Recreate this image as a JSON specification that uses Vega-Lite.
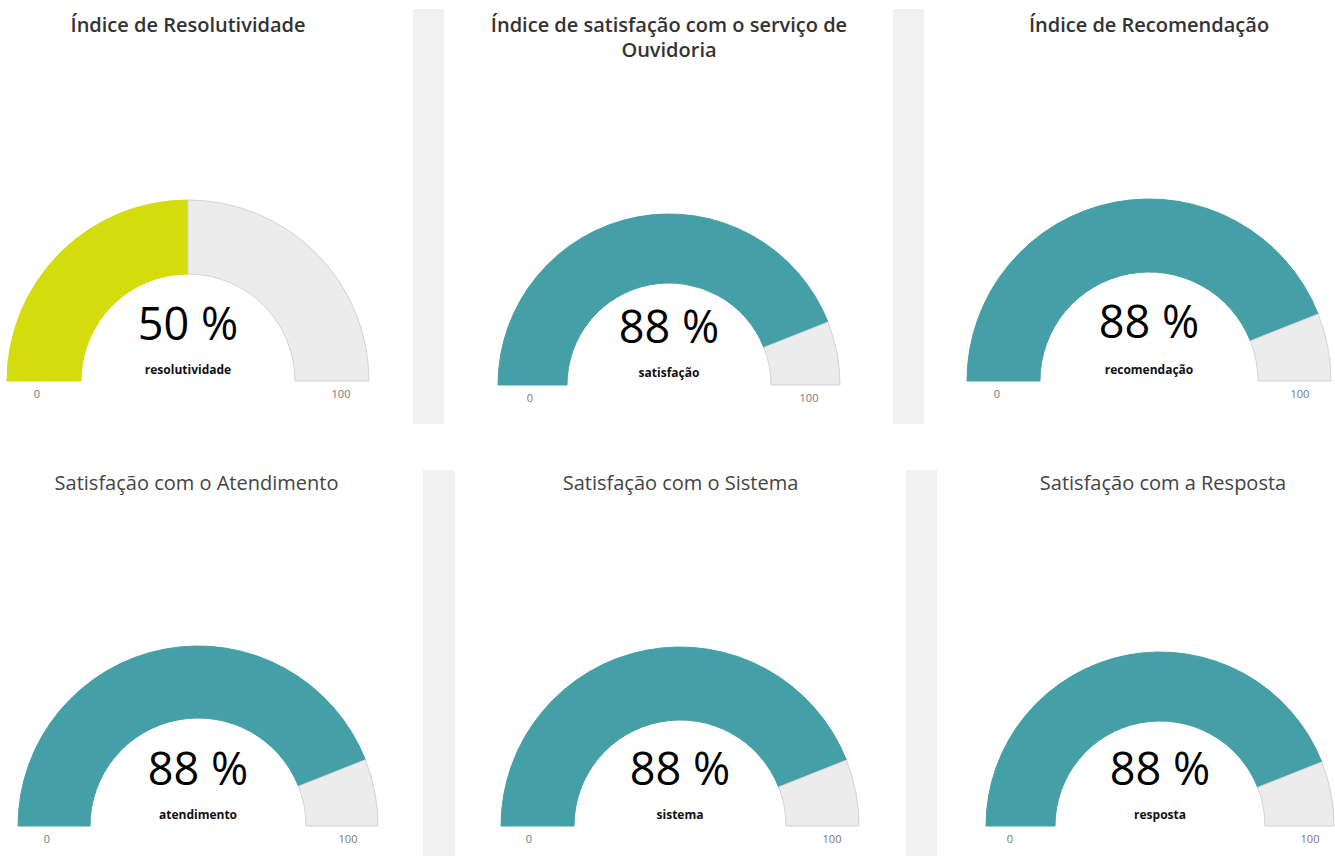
{
  "$schema": "https://vega.github.io/schema/vega-lite/v6.json",
  "padding": {"left": 0, "top": 9, "right": 0, "bottom": 0},
  "background": "white",
  "config": {"view": {"stroke": null}, "font": "Open Sans"},
  "datasets": {
    "gauges": [
      {"painel": "resolutividade", "parte": "valor", "ord": 1, "v": 50},
      {"painel": "resolutividade", "parte": "resto", "ord": 2, "v": 50},
      {"painel": "satisfacao", "parte": "valor", "ord": 1, "v": 88},
      {"painel": "satisfacao", "parte": "resto", "ord": 2, "v": 12},
      {"painel": "recomendacao", "parte": "valor", "ord": 1, "v": 88},
      {"painel": "recomendacao", "parte": "resto", "ord": 2, "v": 12},
      {"painel": "atendimento", "parte": "valor", "ord": 1, "v": 88},
      {"painel": "atendimento", "parte": "resto", "ord": 2, "v": 12},
      {"painel": "sistema", "parte": "valor", "ord": 1, "v": 88},
      {"painel": "sistema", "parte": "resto", "ord": 2, "v": 12},
      {"painel": "resposta", "parte": "valor", "ord": 1, "v": 88},
      {"painel": "resposta", "parte": "resto", "ord": 2, "v": 12}
    ],
    "textos": [
      {"painel": "resolutividade", "rotulo": "50 %", "nome": "resolutividade", "min": 0, "max": 100},
      {"painel": "satisfacao", "rotulo": "88 %", "nome": "satisfação", "min": 0, "max": 100},
      {"painel": "recomendacao", "rotulo": "88 %", "nome": "recomendação", "min": 0, "max": 100},
      {"painel": "atendimento", "rotulo": "88 %", "nome": "atendimento", "min": 0, "max": 100},
      {"painel": "sistema", "rotulo": "88 %", "nome": "sistema", "min": 0, "max": 100},
      {"painel": "resposta", "rotulo": "88 %", "nome": "resposta", "min": 0, "max": 100}
    ],
    "faixa": [{"faixa": "separador"}]
  },
  "spacing": 46,
  "vconcat": [
    {
      "spacing": 0,
      "hconcat": [
        {
          "width": 413, "height": 372,
          "title": {"text": "Índice de Resolutividade", "anchor": "middle", "dx": -18.5, "offset": -43, "baseline": "alphabetic", "fontSize": 20, "fontWeight": 600, "font": "Open Sans", "color": "#333333"},
          "layer": [
            {
              "data": {"name": "gauges"},
              "transform": [{"filter": "datum.painel == 'resolutividade'"}],
              "mark": {"type": "arc", "radius": 181, "radius2": 107, "strokeWidth": 1},
              "encoding": {
                "x": {"datum": 0.4552, "type": "quantitative", "scale": {"domain": [0, 1]}, "axis": null},
                "y": {"datum": 0, "type": "quantitative", "scale": {"domain": [0, 1]}, "axis": null},
                "theta": {"field": "v", "type": "quantitative", "stack": true, "scale": {"domain": [0, 100], "range": [-1.5708, 1.5708]}},
                "order": {"field": "ord", "type": "quantitative"},
                "color": {"condition": {"test": "datum.parte == 'valor'", "value": "#d5dc0e"}, "value": "#ececec"},
                "stroke": {"condition": {"test": "datum.parte == 'valor'", "value": "#d5dc0e"}, "value": "#d3d3d3"}
              }
            },
            {
              "data": {"name": "textos"},
              "transform": [{"filter": "datum.painel == 'resolutividade'"}],
              "mark": {"type": "text", "fontSize": 45, "dy": -41, "baseline": "alphabetic", "align": "center", "color": "#000000"},
              "encoding": {"x": {"datum": 0.4552, "type": "quantitative"}, "y": {"datum": 0, "type": "quantitative"}, "text": {"field": "rotulo"}}
            },
            {
              "data": {"name": "textos"},
              "transform": [{"filter": "datum.painel == 'resolutividade'"}],
              "mark": {"type": "text", "fontSize": 12, "fontWeight": "bold", "dy": -7, "baseline": "alphabetic", "align": "center", "color": "#111111"},
              "encoding": {"x": {"datum": 0.4552, "type": "quantitative"}, "y": {"datum": 0, "type": "quantitative"}, "text": {"field": "nome"}}
            },
            {
              "data": {"name": "textos"},
              "transform": [{"filter": "datum.painel == 'resolutividade'"}],
              "mark": {"type": "text", "fontSize": 11, "dy": 17, "dx": -151, "baseline": "alphabetic", "align": "center", "color": "#777777"},
              "encoding": {"x": {"datum": 0.4552, "type": "quantitative"}, "y": {"datum": 0, "type": "quantitative"}, "text": {"field": "min", "type": "quantitative"}}
            },
            {
              "data": {"name": "textos"},
              "transform": [{"filter": "datum.painel == 'resolutividade'"}],
              "mark": {"type": "text", "fontSize": 11, "dy": 17, "dx": 153, "baseline": "alphabetic", "align": "center", "color": "#777777"},
              "encoding": {"x": {"datum": 0.4552, "type": "quantitative"}, "y": {"datum": 0, "type": "quantitative"}, "text": {"field": "max", "type": "quantitative"}}
            }
          ]
        },
        {
          "width": 31, "height": 415,
          "data": {"name": "faixa"},
          "mark": {"type": "rect", "color": "#f1f1f1"},
          "encoding": {
            "x": {"datum": 0, "type": "quantitative", "scale": {"domain": [0, 1]}, "axis": null},
            "x2": {"datum": 1},
            "y": {"datum": 0, "type": "quantitative", "scale": {"domain": [0, 1]}, "axis": null},
            "y2": {"datum": 1}
          }
        },
        {
          "width": 449, "height": 376,
          "title": {"text": ["Índice de satisfação com o serviço de", "Ouvidoria"], "anchor": "middle", "dx": 0.5, "offset": -68, "baseline": "alphabetic", "lineHeight": 25, "fontSize": 20, "fontWeight": 600, "font": "Open Sans", "color": "#333333"},
          "layer": [
            {
              "data": {"name": "gauges"},
              "transform": [{"filter": "datum.painel == 'satisfacao'"}],
              "mark": {"type": "arc", "radius": 171, "radius2": 102, "strokeWidth": 1},
              "encoding": {
                "x": {"datum": 0.5011, "type": "quantitative", "scale": {"domain": [0, 1]}, "axis": null},
                "y": {"datum": 0, "type": "quantitative", "scale": {"domain": [0, 1]}, "axis": null},
                "theta": {"field": "v", "type": "quantitative", "stack": true, "scale": {"domain": [0, 100], "range": [-1.5708, 1.5708]}},
                "order": {"field": "ord", "type": "quantitative"},
                "color": {"condition": {"test": "datum.parte == 'valor'", "value": "#459fa6"}, "value": "#ececec"},
                "stroke": {"condition": {"test": "datum.parte == 'valor'", "value": "#459fa6"}, "value": "#d3d3d3"}
              }
            },
            {
              "data": {"name": "textos"},
              "transform": [{"filter": "datum.painel == 'satisfacao'"}],
              "mark": {"type": "text", "fontSize": 45, "dy": -42, "baseline": "alphabetic", "align": "center", "color": "#000000"},
              "encoding": {"x": {"datum": 0.5011, "type": "quantitative"}, "y": {"datum": 0, "type": "quantitative"}, "text": {"field": "rotulo"}}
            },
            {
              "data": {"name": "textos"},
              "transform": [{"filter": "datum.painel == 'satisfacao'"}],
              "mark": {"type": "text", "fontSize": 12, "fontWeight": "bold", "dy": -8, "baseline": "alphabetic", "align": "center", "color": "#111111"},
              "encoding": {"x": {"datum": 0.5011, "type": "quantitative"}, "y": {"datum": 0, "type": "quantitative"}, "text": {"field": "nome"}}
            },
            {
              "data": {"name": "textos"},
              "transform": [{"filter": "datum.painel == 'satisfacao'"}],
              "mark": {"type": "text", "fontSize": 11, "dy": 17, "dx": -139, "baseline": "alphabetic", "align": "center", "color": "#777777"},
              "encoding": {"x": {"datum": 0.5011, "type": "quantitative"}, "y": {"datum": 0, "type": "quantitative"}, "text": {"field": "min", "type": "quantitative"}}
            },
            {
              "data": {"name": "textos"},
              "transform": [{"filter": "datum.painel == 'satisfacao'"}],
              "mark": {"type": "text", "fontSize": 11, "dy": 17, "dx": 140, "baseline": "alphabetic", "align": "center", "color": "#777777"},
              "encoding": {"x": {"datum": 0.5011, "type": "quantitative"}, "y": {"datum": 0, "type": "quantitative"}, "text": {"field": "max", "type": "quantitative"}}
            }
          ]
        },
        {
          "width": 31, "height": 415,
          "data": {"name": "faixa"},
          "mark": {"type": "rect", "color": "#f1f1f1"},
          "encoding": {
            "x": {"datum": 0, "type": "quantitative", "scale": {"domain": [0, 1]}, "axis": null},
            "x2": {"datum": 1},
            "y": {"datum": 0, "type": "quantitative", "scale": {"domain": [0, 1]}, "axis": null},
            "y2": {"datum": 1}
          }
        },
        {
          "width": 411, "height": 372,
          "title": {"text": "Índice de Recomendação", "anchor": "middle", "dx": 19.5, "offset": -43, "baseline": "alphabetic", "fontSize": 20, "fontWeight": 600, "font": "Open Sans", "color": "#333333"},
          "layer": [
            {
              "data": {"name": "gauges"},
              "transform": [{"filter": "datum.painel == 'recomendacao'"}],
              "mark": {"type": "arc", "radius": 182, "radius2": 109, "strokeWidth": 1},
              "encoding": {
                "x": {"datum": 0.5474, "type": "quantitative", "scale": {"domain": [0, 1]}, "axis": null},
                "y": {"datum": 0, "type": "quantitative", "scale": {"domain": [0, 1]}, "axis": null},
                "theta": {"field": "v", "type": "quantitative", "stack": true, "scale": {"domain": [0, 100], "range": [-1.5708, 1.5708]}},
                "order": {"field": "ord", "type": "quantitative"},
                "color": {"condition": {"test": "datum.parte == 'valor'", "value": "#459fa6"}, "value": "#ececec"},
                "stroke": {"condition": {"test": "datum.parte == 'valor'", "value": "#459fa6"}, "value": "#d3d3d3"}
              }
            },
            {
              "data": {"name": "textos"},
              "transform": [{"filter": "datum.painel == 'recomendacao'"}],
              "mark": {"type": "text", "fontSize": 45, "dy": -43, "baseline": "alphabetic", "align": "center", "color": "#000000"},
              "encoding": {"x": {"datum": 0.5474, "type": "quantitative"}, "y": {"datum": 0, "type": "quantitative"}, "text": {"field": "rotulo"}}
            },
            {
              "data": {"name": "textos"},
              "transform": [{"filter": "datum.painel == 'recomendacao'"}],
              "mark": {"type": "text", "fontSize": 12, "fontWeight": "bold", "dy": -7, "baseline": "alphabetic", "align": "center", "color": "#111111"},
              "encoding": {"x": {"datum": 0.5474, "type": "quantitative"}, "y": {"datum": 0, "type": "quantitative"}, "text": {"field": "nome"}}
            },
            {
              "data": {"name": "textos"},
              "transform": [{"filter": "datum.painel == 'recomendacao'"}],
              "mark": {"type": "text", "fontSize": 11, "dy": 17, "dx": -152, "baseline": "alphabetic", "align": "center", "color": "#777777"},
              "encoding": {"x": {"datum": 0.5474, "type": "quantitative"}, "y": {"datum": 0, "type": "quantitative"}, "text": {"field": "min", "type": "quantitative"}}
            },
            {
              "data": {"name": "textos"},
              "transform": [{"filter": "datum.painel == 'recomendacao'"}],
              "mark": {"type": "text", "fontSize": 11, "dy": 17, "dx": 151, "baseline": "alphabetic", "align": "center", "color": "#777777"},
              "encoding": {"x": {"datum": 0.5474, "type": "quantitative"}, "y": {"datum": 0, "type": "quantitative"}, "text": {"field": "max", "type": "quantitative"}}
            }
          ]
        }
      ]
    },
    {
      "spacing": 0,
      "hconcat": [
        {
          "width": 423, "height": 356,
          "title": {"text": "Satisfação com o Atendimento", "anchor": "middle", "dx": -15, "offset": -40, "baseline": "alphabetic", "fontSize": 20, "fontWeight": "normal", "font": "Open Sans", "color": "#444444"},
          "layer": [
            {
              "data": {"name": "gauges"},
              "transform": [{"filter": "datum.painel == 'atendimento'"}],
              "mark": {"type": "arc", "radius": 180, "radius2": 108, "strokeWidth": 1},
              "encoding": {
                "x": {"datum": 0.4681, "type": "quantitative", "scale": {"domain": [0, 1]}, "axis": null},
                "y": {"datum": 0, "type": "quantitative", "scale": {"domain": [0, 1]}, "axis": null},
                "theta": {"field": "v", "type": "quantitative", "stack": true, "scale": {"domain": [0, 100], "range": [-1.5708, 1.5708]}},
                "order": {"field": "ord", "type": "quantitative"},
                "color": {"condition": {"test": "datum.parte == 'valor'", "value": "#459fa6"}, "value": "#ececec"},
                "stroke": {"condition": {"test": "datum.parte == 'valor'", "value": "#459fa6"}, "value": "#d3d3d3"}
              }
            },
            {
              "data": {"name": "textos"},
              "transform": [{"filter": "datum.painel == 'atendimento'"}],
              "mark": {"type": "text", "fontSize": 45, "dy": -41, "baseline": "alphabetic", "align": "center", "color": "#000000"},
              "encoding": {"x": {"datum": 0.4681, "type": "quantitative"}, "y": {"datum": 0, "type": "quantitative"}, "text": {"field": "rotulo"}}
            },
            {
              "data": {"name": "textos"},
              "transform": [{"filter": "datum.painel == 'atendimento'"}],
              "mark": {"type": "text", "fontSize": 12, "fontWeight": "bold", "dy": -7, "baseline": "alphabetic", "align": "center", "color": "#111111"},
              "encoding": {"x": {"datum": 0.4681, "type": "quantitative"}, "y": {"datum": 0, "type": "quantitative"}, "text": {"field": "nome"}}
            },
            {
              "data": {"name": "textos"},
              "transform": [{"filter": "datum.painel == 'atendimento'"}],
              "mark": {"type": "text", "fontSize": 11, "dy": 17, "dx": -151, "baseline": "alphabetic", "align": "center", "color": "#777777"},
              "encoding": {"x": {"datum": 0.4681, "type": "quantitative"}, "y": {"datum": 0, "type": "quantitative"}, "text": {"field": "min", "type": "quantitative"}}
            },
            {
              "data": {"name": "textos"},
              "transform": [{"filter": "datum.painel == 'atendimento'"}],
              "mark": {"type": "text", "fontSize": 11, "dy": 17, "dx": 150, "baseline": "alphabetic", "align": "center", "color": "#777777"},
              "encoding": {"x": {"datum": 0.4681, "type": "quantitative"}, "y": {"datum": 0, "type": "quantitative"}, "text": {"field": "max", "type": "quantitative"}}
            }
          ]
        },
        {
          "width": 32, "height": 386,
          "data": {"name": "faixa"},
          "mark": {"type": "rect", "color": "#f1f1f1"},
          "encoding": {
            "x": {"datum": 0, "type": "quantitative", "scale": {"domain": [0, 1]}, "axis": null},
            "x2": {"datum": 1},
            "y": {"datum": 0, "type": "quantitative", "scale": {"domain": [0, 1]}, "axis": null},
            "y2": {"datum": 1}
          }
        },
        {
          "width": 451, "height": 356,
          "title": {"text": "Satisfação com o Sistema", "anchor": "middle", "dx": 0, "offset": -40, "baseline": "alphabetic", "fontSize": 20, "fontWeight": "normal", "font": "Open Sans", "color": "#444444"},
          "layer": [
            {
              "data": {"name": "gauges"},
              "transform": [{"filter": "datum.painel == 'sistema'"}],
              "mark": {"type": "arc", "radius": 179, "radius2": 106, "strokeWidth": 1},
              "encoding": {
                "x": {"datum": 0.4989, "type": "quantitative", "scale": {"domain": [0, 1]}, "axis": null},
                "y": {"datum": 0, "type": "quantitative", "scale": {"domain": [0, 1]}, "axis": null},
                "theta": {"field": "v", "type": "quantitative", "stack": true, "scale": {"domain": [0, 100], "range": [-1.5708, 1.5708]}},
                "order": {"field": "ord", "type": "quantitative"},
                "color": {"condition": {"test": "datum.parte == 'valor'", "value": "#459fa6"}, "value": "#ececec"},
                "stroke": {"condition": {"test": "datum.parte == 'valor'", "value": "#459fa6"}, "value": "#d3d3d3"}
              }
            },
            {
              "data": {"name": "textos"},
              "transform": [{"filter": "datum.painel == 'sistema'"}],
              "mark": {"type": "text", "fontSize": 45, "dy": -41, "baseline": "alphabetic", "align": "center", "color": "#000000"},
              "encoding": {"x": {"datum": 0.4989, "type": "quantitative"}, "y": {"datum": 0, "type": "quantitative"}, "text": {"field": "rotulo"}}
            },
            {
              "data": {"name": "textos"},
              "transform": [{"filter": "datum.painel == 'sistema'"}],
              "mark": {"type": "text", "fontSize": 12, "fontWeight": "bold", "dy": -7, "baseline": "alphabetic", "align": "center", "color": "#111111"},
              "encoding": {"x": {"datum": 0.4989, "type": "quantitative"}, "y": {"datum": 0, "type": "quantitative"}, "text": {"field": "nome"}}
            },
            {
              "data": {"name": "textos"},
              "transform": [{"filter": "datum.painel == 'sistema'"}],
              "mark": {"type": "text", "fontSize": 11, "dy": 17, "dx": -151, "baseline": "alphabetic", "align": "center", "color": "#777777"},
              "encoding": {"x": {"datum": 0.4989, "type": "quantitative"}, "y": {"datum": 0, "type": "quantitative"}, "text": {"field": "min", "type": "quantitative"}}
            },
            {
              "data": {"name": "textos"},
              "transform": [{"filter": "datum.painel == 'sistema'"}],
              "mark": {"type": "text", "fontSize": 11, "dy": 17, "dx": 152, "baseline": "alphabetic", "align": "center", "color": "#777777"},
              "encoding": {"x": {"datum": 0.4989, "type": "quantitative"}, "y": {"datum": 0, "type": "quantitative"}, "text": {"field": "max", "type": "quantitative"}}
            }
          ]
        },
        {
          "width": 31, "height": 386,
          "data": {"name": "faixa"},
          "mark": {"type": "rect", "color": "#f1f1f1"},
          "encoding": {
            "x": {"datum": 0, "type": "quantitative", "scale": {"domain": [0, 1]}, "axis": null},
            "x2": {"datum": 1},
            "y": {"datum": 0, "type": "quantitative", "scale": {"domain": [0, 1]}, "axis": null},
            "y2": {"datum": 1}
          }
        },
        {
          "width": 398, "height": 356,
          "title": {"text": "Satisfação com a Resposta", "anchor": "middle", "dx": 27, "offset": -40, "baseline": "alphabetic", "fontSize": 20, "fontWeight": "normal", "font": "Open Sans", "color": "#444444"},
          "layer": [
            {
              "data": {"name": "gauges"},
              "transform": [{"filter": "datum.painel == 'resposta'"}],
              "mark": {"type": "arc", "radius": 174, "radius2": 105, "strokeWidth": 1},
              "encoding": {
                "x": {"datum": 0.5603, "type": "quantitative", "scale": {"domain": [0, 1]}, "axis": null},
                "y": {"datum": 0, "type": "quantitative", "scale": {"domain": [0, 1]}, "axis": null},
                "theta": {"field": "v", "type": "quantitative", "stack": true, "scale": {"domain": [0, 100], "range": [-1.5708, 1.5708]}},
                "order": {"field": "ord", "type": "quantitative"},
                "color": {"condition": {"test": "datum.parte == 'valor'", "value": "#459fa6"}, "value": "#ececec"},
                "stroke": {"condition": {"test": "datum.parte == 'valor'", "value": "#459fa6"}, "value": "#d3d3d3"}
              }
            },
            {
              "data": {"name": "textos"},
              "transform": [{"filter": "datum.painel == 'resposta'"}],
              "mark": {"type": "text", "fontSize": 45, "dy": -41, "baseline": "alphabetic", "align": "center", "color": "#000000"},
              "encoding": {"x": {"datum": 0.5603, "type": "quantitative"}, "y": {"datum": 0, "type": "quantitative"}, "text": {"field": "rotulo"}}
            },
            {
              "data": {"name": "textos"},
              "transform": [{"filter": "datum.painel == 'resposta'"}],
              "mark": {"type": "text", "fontSize": 12, "fontWeight": "bold", "dy": -7, "baseline": "alphabetic", "align": "center", "color": "#111111"},
              "encoding": {"x": {"datum": 0.5603, "type": "quantitative"}, "y": {"datum": 0, "type": "quantitative"}, "text": {"field": "nome"}}
            },
            {
              "data": {"name": "textos"},
              "transform": [{"filter": "datum.painel == 'resposta'"}],
              "mark": {"type": "text", "fontSize": 11, "dy": 17, "dx": -150, "baseline": "alphabetic", "align": "center", "color": "#777777"},
              "encoding": {"x": {"datum": 0.5603, "type": "quantitative"}, "y": {"datum": 0, "type": "quantitative"}, "text": {"field": "min", "type": "quantitative"}}
            },
            {
              "data": {"name": "textos"},
              "transform": [{"filter": "datum.painel == 'resposta'"}],
              "mark": {"type": "text", "fontSize": 11, "dy": 17, "dx": 150, "baseline": "alphabetic", "align": "center", "color": "#777777"},
              "encoding": {"x": {"datum": 0.5603, "type": "quantitative"}, "y": {"datum": 0, "type": "quantitative"}, "text": {"field": "max", "type": "quantitative"}}
            }
          ]
        }
      ]
    }
  ]
}
